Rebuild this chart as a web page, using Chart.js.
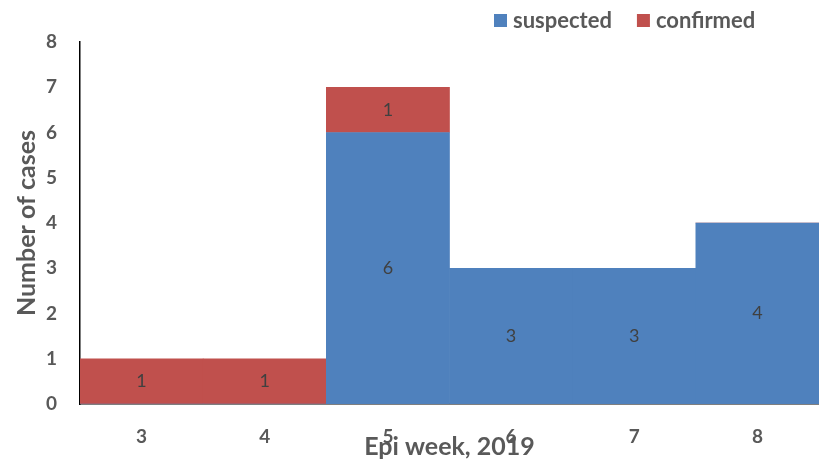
<!DOCTYPE html>
<html>
<head>
<meta charset="utf-8">
<script src="https://cdn.jsdelivr.net/npm/chart.js@4"></script>
<style>
  html, body { margin: 0; padding: 0; background: #fff; }
  #wrap { width: 819px; height: 459px; }
</style>
</head>
<body>
<div id="wrap"><canvas id="epiChart" width="819" height="459"></canvas></div>
<script>
// DATA
const weeks = ['3', '4', '5', '6', '7', '8'];
const suspected = [0, 0, 6, 3, 3, 4];
const confirmed = [1, 1, 1, 0, 0, 0];

const BLUE = '#4F81BD';
const RED = '#C0504D';
const TEXT = '#595959';
const FONT = 'Lato, "Open Sans", sans-serif';

// value labels in the middle of each segment
const barLabels = {
  id: 'barLabels',
  afterDatasetsDraw(chart) {
    const ctx = chart.ctx;
    ctx.save();
    ctx.font = '18px ' + FONT;
    ctx.fillStyle = '#404040';
    ctx.textAlign = 'center';
    ctx.textBaseline = 'middle';
    chart.data.datasets.forEach((ds, i) => {
      chart.getDatasetMeta(i).data.forEach((bar, j) => {
        const v = ds.data[j];
        if (!v) return;
        const mid = (bar.y + bar.base) / 2;
        ctx.fillText(String(v), bar.x, mid);
      });
    });
    ctx.restore();
  }
};

// legend at the top right, like the original
const topLegend = {
  id: 'topLegend',
  afterDraw(chart) {
    const ctx = chart.ctx;
    ctx.save();
    ctx.font = 'bold 22px ' + FONT;
    ctx.textBaseline = 'middle';
    let x = 494;
    const y = 21;
    chart.data.datasets.forEach(ds => {
      ctx.fillStyle = ds.backgroundColor;
      ctx.fillRect(x, y - 7, 13, 13);
      x += 19;
      ctx.fillStyle = TEXT;
      ctx.fillText(ds.label, x, y);
      x += ctx.measureText(ds.label).width + 25;
    });
    ctx.restore();
  }
};

new Chart(document.getElementById('epiChart'), {
  type: 'bar',
  data: {
    labels: weeks,
    datasets: [
      { label: 'suspected', data: suspected, backgroundColor: BLUE, barPercentage: 1, categoryPercentage: 1 },
      { label: 'confirmed', data: confirmed, backgroundColor: RED, barPercentage: 1, categoryPercentage: 1 }
    ]
  },
  options: {
    responsive: false,
    animation: false,
    layout: { padding: { top: 42, left: 0, right: 0, bottom: 0 } },
    plugins: {
      legend: { display: false },
      tooltip: { enabled: false }
    },
    scales: {
      x: {
        stacked: true,
        grid: { display: false, drawTicks: false },
        border: { display: true, color: '#000', width: 1.5 },
        ticks: { color: TEXT, font: { family: FONT, size: 19, weight: 'bold' }, padding: 21 },
        title: {
          display: true, text: 'Epi week, 2019', color: TEXT,
          font: { family: FONT, size: 25, weight: 'bold', lineHeight: 1 },
          padding: { top: 0, bottom: 0 }
        },
        afterFit(scale) { scale.height = 55; }
      },
      y: {
        stacked: true,
        min: 0, max: 8,
        grid: { display: false, drawTicks: false },
        border: { display: true, color: '#000', width: 1.5 },
        ticks: { stepSize: 1, color: TEXT, font: { family: FONT, size: 19, weight: 'bold' }, padding: 23 },
        title: {
          display: true, text: 'Number of cases', color: TEXT,
          font: { family: FONT, size: 25, weight: 'bold', lineHeight: 1 },
          padding: { top: 14, bottom: 0 }
        },
        afterFit(scale) { scale.width = 80; }
      }
    }
  },
  plugins: [barLabels, topLegend]
});
</script>
</body>
</html>
